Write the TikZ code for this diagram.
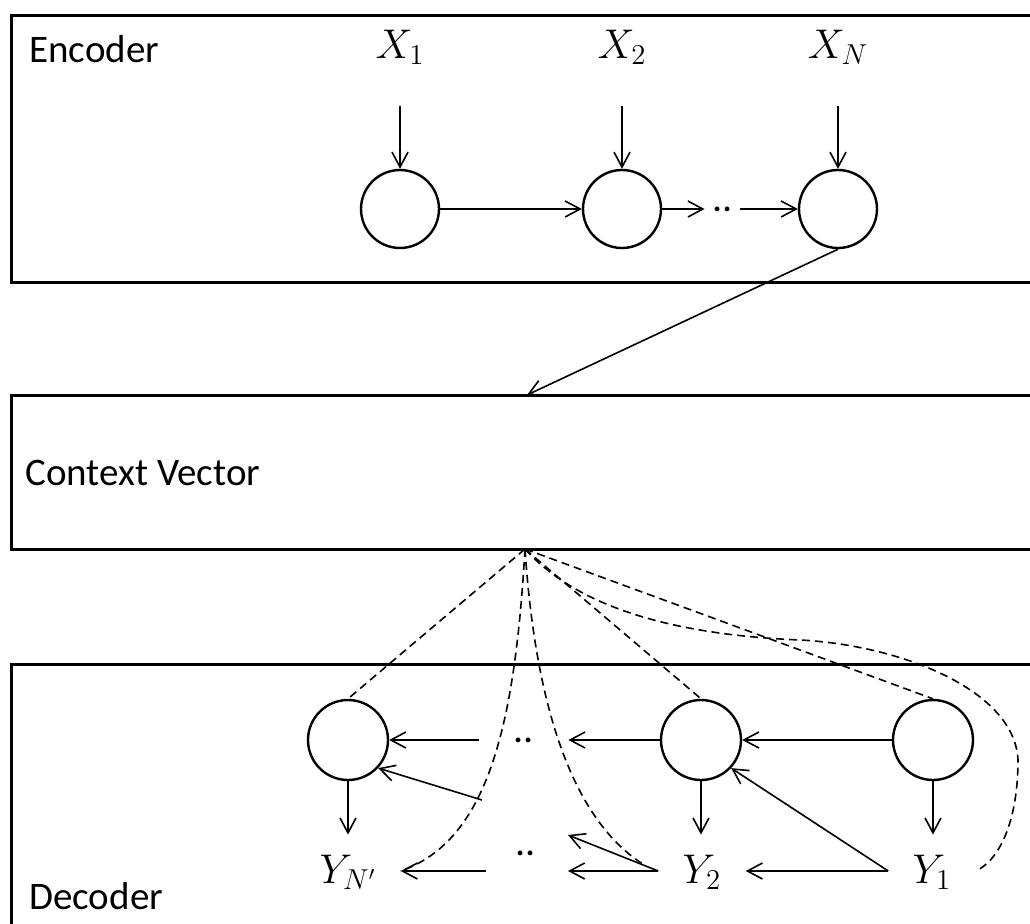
\documentclass[tikz,border=0pt]{standalone}
\usepackage{fontspec}
\setmainfont{Carlito}
\usetikzlibrary{arrows.meta}
\begin{document}
\begin{tikzpicture}[x=0.5pt,y=-0.5pt,
  box/.style={line width=1.5pt},
  cell/.style={circle,draw,line width=1.2pt,minimum size=39pt,inner sep=0pt},
  dcell/.style={cell,minimum size=40pt},
  arr/.style={line width=0.8pt,-{Straight Barb[length=7.5pt,width=8pt,line width=0.8pt]}},
  ctxlink/.style={line width=0.8pt,dash pattern=on 4pt off 2.5pt},
  lbl/.style={font=\fontsize{19.5}{23}\selectfont,inner sep=0pt,anchor=base west},
  sym/.style={font=\fontsize{20}{24}\selectfont,inner sep=0pt,text height=16pt,text depth=4pt},
  ysym/.style={sym,inner xsep=12pt},
  dotsnode/.style={font=\fontsize{20}{24}\selectfont,inner sep=0pt}
]
\useasboundingbox (0,0) rectangle (1030,923);
\clip (0,0) rectangle (1030,923);
\fill[white] (0,0) rectangle (1030,923);

% boxes
\draw[box] (11,15) rectangle (1070,282);
\draw[box] (11,395) rectangle (1070,549);
\draw[box] (11,664) rectangle (1070,980);

\node[lbl] (enc) at (29,62) {Encoder};
\node[lbl] (ctx) at (25,485) {Context Vector};
\node[lbl] (dec) at (29,909) {Decoder};

% encoder
\node[cell] (e1) at (400,209) {};
\node[cell] (e2) at (622,209) {};
\node[cell] (e3) at (838,209) {};
\node[dotsnode,minimum width=17.5pt] (ed) at (722.5,209) {..};
\node[sym] (x1) at (400,46) {$X_1$};
\node[sym] (x2) at (622,46) {$X_2$};
\node[sym] (xn) at (838,46) {$X_N$};

\draw[arr,shorten <=20pt] (x1) -- (e1);
\draw[arr,shorten <=20pt] (x2) -- (e2);
\draw[arr,shorten <=20pt] (xn) -- (e3);
\draw[arr] (e1) -- (e2);
\draw[arr] (e2) -- (ed);
\draw[arr] (ed) -- (e3);

\coordinate (ctxN) at (527,395);
\draw[arr] (e3.south) -- (ctxN);

% decoder
\node[dcell] (d1) at (348,740) {};
\node[dcell] (d2) at (701,740) {};
\node[dcell] (d3) at (933,740) {};
\node[dotsnode,minimum width=44.5pt] (dd1) at (523.5,740) {..};
\node[dotsnode] (dd2) at (526,853) {..};
\node[ysym] (y1) at (932,871) {$Y_1$};
\node[ysym] (y2) at (702,871) {$Y_2$};
\node[ysym] (yn) at (348,871) {$Y_{N'}$};

\coordinate (bR) at (568,871);
\coordinate (bRu) at (568,835);
\coordinate (bL) at (486,871);
\coordinate (bLu) at (482,800);
\coordinate (c2) at (646,866);

\draw[arr] (d3) -- (d2);
\draw[arr] (d2) -- (dd1);
\draw[arr] (dd1) -- (d1);

\draw[arr,shorten >=8pt] (d1) -- (d1 |- yn.north);
\draw[arr,shorten >=8pt] (d2) -- (d2 |- y2.north);
\draw[arr,shorten >=8pt] (d3) -- (d3 |- y1.north);

\draw[arr] (y1) -- (y2);
\draw[arr] (y1.west) -- (d2.-43);
\draw[arr] (y2.west) -- (bR);
\draw[arr] (y2.west) -- (bRu);
\draw[arr] (bL) -- (yn.east |- bL);
\draw[arr] (bLu) -- (d1.-43);

% context links
\coordinate (ap) at (525,549);
\draw[ctxlink] (ap) -- (d1.north);
\draw[ctxlink] (ap) -- (d2.north);
\draw[ctxlink] (ap) -- (d3.north);
\draw[ctxlink] (ap) .. controls (515,720) and (490,840) .. (yn.east);
\draw[ctxlink] (ap) .. controls (535,700) and (570,820) .. (c2);
\draw[ctxlink] (ap) .. controls (580,610) and (680,635) .. (800,640)
  .. controls (900,645) and (1015,690) .. (1018,760)
  .. controls (1018,820) and (1000,860) .. (y1.east);
\end{tikzpicture}
\end{document}
